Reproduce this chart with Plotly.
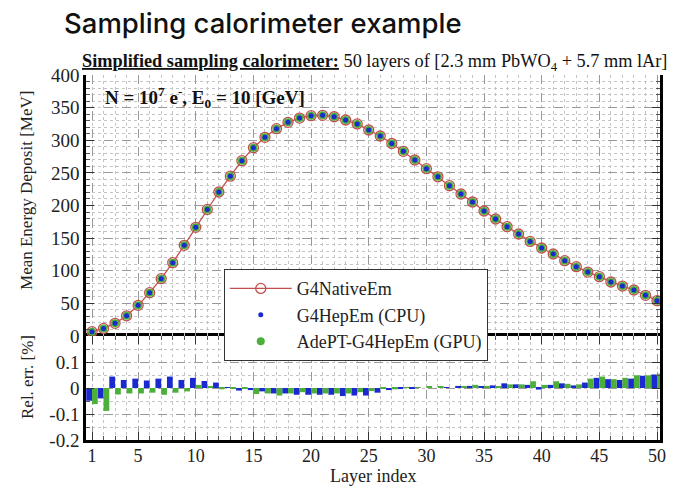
import plotly.graph_objects as go

layers = list(range(1, 51))
edep_native = [6.6, 11.7, 19.4, 31.0, 47.0, 66.4, 87.9, 112.4, 139.0, 166.5,
               194.0, 220.7, 245.0, 268.7, 288.6, 304.5, 317.8, 327.5, 334.0, 337.7,
               338.2, 336.0, 331.0, 325.0, 315.7, 306.5, 295.0, 283.0, 269.7, 256.4,
               244.0, 230.4, 217.6, 205.4, 191.6, 179.3, 167.6, 156.3, 145.0, 134.9,
               125.7, 115.5, 106.3, 98.0, 91.0, 82.8, 76.6, 70.5, 62.3, 54.2]
relerr_cpu = [-0.049, -0.040, 0.044, 0.031, 0.036, 0.029, 0.036, 0.044, 0.031, 0.039,
              0.027, 0.021, 0.002, -0.010, -0.008, -0.013, -0.021, -0.021, -0.026, -0.026,
              -0.026, -0.026, -0.031, -0.029, -0.029, -0.018, -0.008, -0.004, -0.002, 0.000,
              0.000, 0.002, 0.008, 0.008, 0.006, 0.010, 0.018, 0.014, 0.012, -0.006,
              0.012, 0.018, 0.010, 0.021, 0.039, 0.034, 0.031, 0.036, 0.047, 0.052]
relerr_gpu = [-0.062, -0.088, -0.025, -0.021, -0.021, -0.018, -0.026, -0.018, -0.013, 0.012,
              0.005, -0.005, -0.002, -0.004, -0.023, -0.021, -0.029, -0.021, -0.016, -0.021,
              -0.021, -0.021, -0.021, -0.016, -0.012, -0.004, -0.005, 0.002, 0.002, 0.004,
              0.004, 0.000, 0.006, 0.012, 0.008, 0.006, 0.014, 0.014, 0.026, 0.012,
              0.026, 0.016, 0.014, 0.036, 0.044, 0.034, 0.039, 0.049, 0.049, 0.055]
x_ticks = [1, 5, 10, 15, 20, 25, 30, 35, 40, 45, 50]
y_top_ticks = [0, 50, 100, 150, 200, 250, 300, 350, 400]
y_bot_ticks = [-0.2, -0.1, 0, 0.1]
y_bot_labels = ["-0.2", "-0.1", "0", "0.1"]

RED = "#c0504d"
BLUE = "#1a2ad0"
GREEN = "#4caf3a"
SERIF = "Liberation Serif"

fig = go.Figure()
fig.add_trace(go.Scatter(x=layers, y=edep_native, mode="lines+markers", name="G4NativeEm",
                         line=dict(color=RED, width=1.3),
                         marker=dict(symbol="circle-open", size=10, color=RED, line=dict(width=1.3)),
                         xaxis="x", yaxis="y2", legendrank=1))
fig.add_trace(go.Scatter(x=layers, y=edep_native, mode="markers", name="AdePT-G4HepEm (GPU)",
                         marker=dict(symbol="circle", size=8, color=GREEN),
                         xaxis="x", yaxis="y2", legendrank=3))
fig.add_trace(go.Scatter(x=layers, y=edep_native, mode="markers", name="G4HepEm (CPU)",
                         marker=dict(symbol="circle", size=5, color=BLUE),
                         xaxis="x", yaxis="y2", legendrank=2))

fig.add_trace(go.Bar(x=layers, y=relerr_cpu, width=0.5, offset=-0.5, marker=dict(color=BLUE, line=dict(width=0)),
                     showlegend=False, xaxis="x", yaxis="y"))
fig.add_trace(go.Bar(x=layers, y=relerr_gpu, width=0.5, offset=0.0, marker=dict(color=GREEN, line=dict(width=0)),
                     showlegend=False, xaxis="x", yaxis="y"))

ytickfont = dict(family=SERIF, size=19, color="#222")
xtickfont = dict(family=SERIF, size=18, color="#222")
grid_major = dict(showgrid=True, gridcolor="#999", gridwidth=1, griddash="dash")
minor_x = dict(dtick=1, tick0=0, ticks="inside", ticklen=4, tickcolor="#555",
               showgrid=True, gridcolor="#c4c4c4", griddash="dot", gridwidth=1)

fig.update_layout(
    width=677, height=490,
    margin=dict(l=86, r=17, t=75, b=50),
    paper_bgcolor="white", plot_bgcolor="white",
    barmode="overlay",
    font=dict(family=SERIF, color="#222"),
    xaxis=dict(range=[0.48, 50.26], tickvals=x_ticks, ticktext=[str(v) for v in x_ticks],
               ticks="inside", ticklen=8, tickwidth=1, tickcolor="#333",
               showline=True, linecolor="black", linewidth=2.5, mirror="ticks",
               tickfont=xtickfont, ticklabelstandoff=-2, zeroline=False, anchor="y",
               minor=minor_x, **grid_major),
    xaxis2=dict(range=[0.48, 50.26], matches="x", anchor="y2", showticklabels=False,
                tickvals=x_ticks, ticks="inside", ticklen=8, tickcolor="#333",
                showline=True, linecolor="black", linewidth=2.5, mirror="ticks", zeroline=False,
                minor=minor_x, **grid_major),
    yaxis=dict(domain=[0, 0.2849], range=[-0.2, 0.2], tickvals=y_bot_ticks, ticktext=y_bot_labels,
               ticks="inside", ticklen=8, tickcolor="#333",
               showline=True, linecolor="black", linewidth=2.5, mirror="ticks",
               tickfont=ytickfont, zeroline=False, anchor="x",
               minor=dict(dtick=0.05, tick0=0, ticks="inside", ticklen=4, tickcolor="#555",
                          showgrid=True, gridcolor="#c4c4c4", griddash="dot", gridwidth=1),
               **grid_major),
    yaxis2=dict(domain=[0.2849, 1], range=[0, 400], tickvals=y_top_ticks,
                ticks="inside", ticklen=8, tickcolor="#333",
                showline=True, linecolor="black", linewidth=2.5, mirror="ticks",
                tickfont=ytickfont, zeroline=False, anchor="x2",
                minor=dict(dtick=10, tick0=0, ticks="inside", ticklen=4, tickcolor="#555",
                           showgrid=True, gridcolor="#c4c4c4", griddash="dot", gridwidth=1),
                **grid_major),
    legend=dict(x=0.24, y=0.468, xanchor="left", yanchor="top",
                bgcolor="white", bordercolor="#333", borderwidth=1,
                font=dict(family=SERIF, size=18, color="#222"),
                itemwidth=62, tracegroupgap=0, traceorder="normal"),
    showlegend=True,
)

fig.add_annotation(text="Sampling calorimeter example", xref="paper", yref="paper",
                   x=-0.0418, y=1.143, xanchor="left", yanchor="middle", showarrow=False,
                   font=dict(family="Inter", size=27.5, color="#111", weight=500))
fig.add_annotation(text="<b><u>Simplified sampling calorimeter:</u></b> 50 layers of [2.3 mm PbWO<sub>4</sub> + 5.7 mm lAr]",
                   xref="paper", yref="paper", x=-0.0105, y=1.033, xanchor="left", yanchor="middle",
                   showarrow=False, font=dict(family=SERIF, size=18.3, color="#111"))
fig.add_annotation(text="<b>N = 10<sup>7</sup> e<sup>-</sup>, E<sub>0</sub> = 10 [GeV]</b>",
                   xref="paper", yref="paper", x=0.0296, y=0.9397, xanchor="left", yanchor="middle",
                   showarrow=False, font=dict(family=SERIF, size=19, color="#111"))
fig.add_annotation(text="Mean Energy Deposit [MeV]", xref="paper", yref="paper",
                   x=-0.1028, y=0.685, xanchor="center", yanchor="middle", textangle=-90,
                   showarrow=False, font=dict(family=SERIF, size=17, color="#222"))
fig.add_annotation(text="Rel. err. [%]", xref="paper", yref="paper",
                   x=-0.1028, y=0.1726, xanchor="center", yanchor="middle", textangle=-90,
                   showarrow=False, font=dict(family=SERIF, size=17, color="#222"))
fig.add_annotation(text="Layer index", xref="paper", yref="paper",
                   x=0.5, y=-0.1315, xanchor="center", yanchor="bottom",
                   showarrow=False, font=dict(family=SERIF, size=18, color="#222"))

fig.write_html("out.html")
